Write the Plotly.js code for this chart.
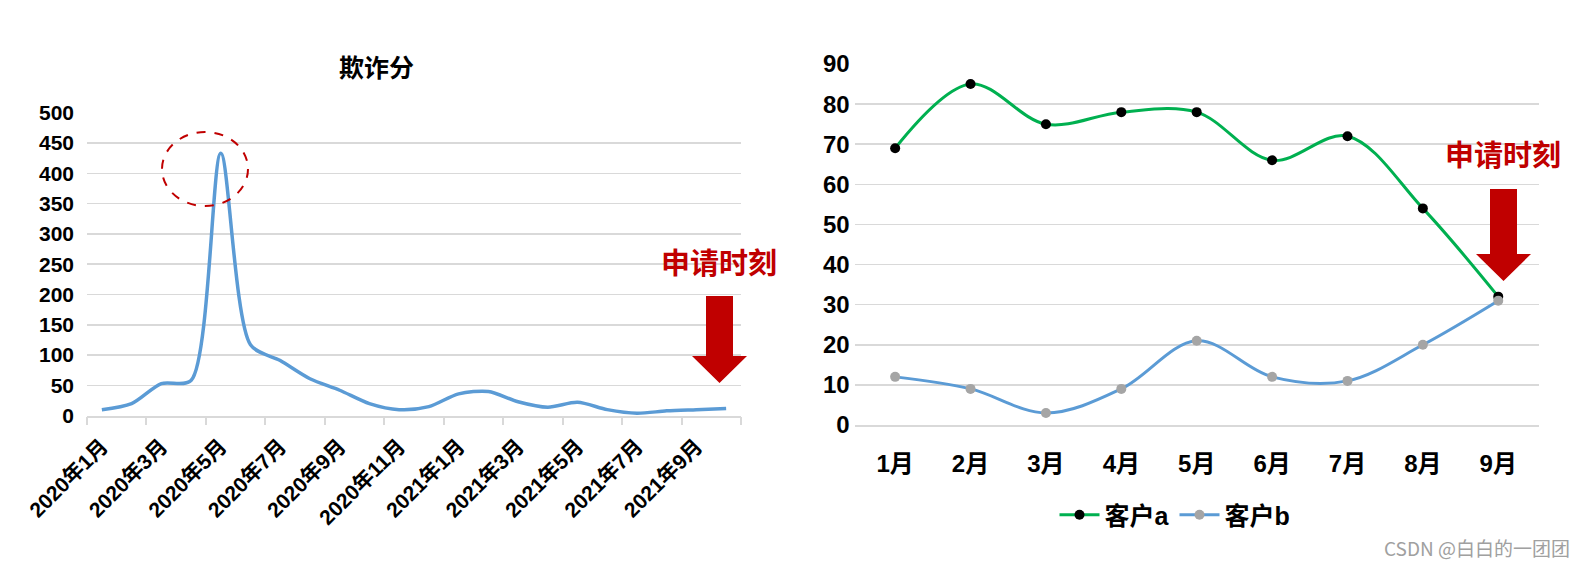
<!DOCTYPE html>
<html>
<head>
<meta charset="utf-8">
<script src="https://cdn.plot.ly/plotly-3.0.1.min.js"></script>
<style>html,body{margin:0;padding:0;background:#fff;}#chart{width:1594px;height:569px;}</style>
</head>
<body>
<div id="chart"></div>
<script>
// ---- data ----
const leftMonths = ['2020年1月','2020年2月','2020年3月','2020年4月','2020年5月','2020年6月','2020年7月','2020年8月','2020年9月','2020年10月','2020年11月','2020年12月','2021年1月','2021年2月','2021年3月','2021年4月','2021年5月','2021年6月','2021年7月','2021年8月','2021年9月','2021年10月'];
const fraudScore = [10, 20, 53, 58, 433, 117, 91, 61, 42, 20, 10, 15, 36, 40, 23, 14, 22, 10, 4, 8, 10, 12];
const leftTitle = '欺诈分';

const rightMonths = ['1月','2月','3月','4月','5月','6月','7月','8月','9月'];
const custA = [69, 85, 75, 78, 78, 66, 72, 54, 32];
const custB = [12, 9, 3, 9, 21, 12, 11, 20, 31];
const seriesNames = ['客户a', '客户b'];
const applyLabel = '申请时刻';
const watermark = 'CSDN @白白的一团团';

// ---- helpers ----
const W = 1594, H = 569;
const px = x => x / W;
const py = y => 1 - y / H;
const P = (x, y) => px(x) + ',' + py(y);
const FONT = 'Liberation Sans, Arial, "Noto Sans CJK SC", sans-serif';
const GRID = '#d9d9d9';
const RED = '#c00000';

const leftIdx = leftMonths.map((m, i) => i);
const leftTickVals = leftIdx.filter(i => i % 2 === 0);
const leftTickText = leftTickVals.map(i => leftMonths[i]);
const leftBoundaries = [];
for (let i = 0; i <= leftMonths.length; i += 2) leftBoundaries.push(i - 0.5);
const leftRange = [-0.5, leftMonths.length - 0.5];

const traces = [
  {
    x: leftIdx, y: fraudScore, type: 'scatter', mode: 'lines',
    line: {color: '#5b9bd5', width: 3.5, shape: 'spline', smoothing: 0.8},
    xaxis: 'x', yaxis: 'y', showlegend: false, hoverinfo: 'x+y'
  },
  {
    x: leftIdx, y: fraudScore, type: 'scatter', mode: 'lines',
    line: {color: 'rgba(0,0,0,0)', width: 0},
    xaxis: 'x3', yaxis: 'y', showlegend: false, hoverinfo: 'skip'
  },
  {
    x: rightMonths, y: custA, type: 'scatter', mode: 'lines+markers', name: seriesNames[0],
    line: {color: '#00b050', width: 3, shape: 'spline', smoothing: 1},
    marker: {color: '#000000', size: 10},
    xaxis: 'x2', yaxis: 'y2'
  },
  {
    x: rightMonths, y: custB, type: 'scatter', mode: 'lines+markers', name: seriesNames[1],
    line: {color: '#5b9bd5', width: 3, shape: 'spline', smoothing: 1},
    marker: {color: '#a5a5a5', size: 10},
    xaxis: 'x2', yaxis: 'y2'
  }
];

const layout = {
  width: W, height: H,
  margin: {l: 0, r: 0, t: 0, b: 0},
  paper_bgcolor: '#ffffff', plot_bgcolor: 'rgba(0,0,0,0)',
  font: {family: FONT, color: '#000000', weight: 'bold'},
  xaxis: {
    domain: [px(87), px(741)], anchor: 'y', range: leftRange,
    tickmode: 'array', tickvals: leftTickVals, ticktext: leftTickText,
    tickangle: -45, ticks: '', showgrid: false, zeroline: false,
    showline: true, linecolor: GRID, linewidth: 2,
    tickfont: {family: FONT, size: 21, color: '#000', weight: 'bold'},
    ticklabelstandoff: 8, fixedrange: true
  },
  xaxis3: {
    overlaying: 'x', anchor: 'y', range: leftRange, side: 'bottom',
    tickmode: 'array', tickvals: leftBoundaries, ticks: 'outside', ticklen: 8,
    tickcolor: GRID, tickwidth: 2, showticklabels: false, showgrid: false,
    zeroline: false, showline: false
  },
  yaxis: {
    domain: [py(415.7), py(112.7)], anchor: 'x', range: [0, 500], dtick: 50,
    showgrid: true, gridcolor: GRID, gridwidth: 1.5, zeroline: false,
    ticks: '', tickfont: {family: FONT, size: 21, color: '#000', weight: 'bold'},
    ticklabelstandoff: 12
  },
  xaxis2: {
    domain: [px(854.7), px(1538.7)], anchor: 'y2', type: 'category',
    ticks: '', showgrid: false, zeroline: false,
    showline: true, linecolor: GRID, linewidth: 1.5,
    tickfont: {family: FONT, size: 24, color: '#000', weight: 'bold'},
    ticklabelstandoff: 17
  },
  yaxis2: {
    domain: [py(425), py(64)], anchor: 'x2', range: [0, 90], dtick: 10,
    showgrid: true, gridcolor: GRID, gridwidth: 1.5, zeroline: false,
    ticks: '', tickfont: {family: FONT, size: 24, color: '#000', weight: 'bold'},
    ticklabelstandoff: 4
  },
  showlegend: true,
  legend: {
    orientation: 'h', x: px(1175), xanchor: 'center', y: py(515), yanchor: 'middle',
    font: {family: FONT, size: 25, color: '#000', weight: 'bold'},
    bgcolor: 'rgba(0,0,0,0)', itemwidth: 40, traceorder: 'normal'
  },
  annotations: [
    {text: leftTitle, xref: 'paper', yref: 'paper', x: px(376), y: py(68), showarrow: false,
     xanchor: 'center', yanchor: 'middle', font: {family: FONT, size: 25, color: '#000', weight: 'bold'}},
    {text: applyLabel, xref: 'paper', yref: 'paper', x: px(719), y: py(264), showarrow: false,
     xanchor: 'center', yanchor: 'middle', font: {family: FONT, size: 29, color: RED, weight: 'bold'}},
    {text: applyLabel, xref: 'paper', yref: 'paper', x: px(1503), y: py(156), showarrow: false,
     xanchor: 'center', yanchor: 'middle', font: {family: FONT, size: 29, color: RED, weight: 'bold'}},
    {text: watermark, xref: 'paper', yref: 'paper', x: px(1572), y: py(547), showarrow: false,
     xanchor: 'right', yanchor: 'middle', font: {family: '"Noto Sans CJK SC", sans-serif', size: 19, color: '#a0a0a0', weight: 'normal'}}
  ],
  shapes: [
    {type: 'circle', xref: 'paper', yref: 'paper', x0: px(162), x1: px(248), y0: py(206), y1: py(132),
     line: {color: RED, width: 2, dash: 'dash'}, fillcolor: 'rgba(0,0,0,0)'},
    {type: 'path', xref: 'paper', yref: 'paper', fillcolor: RED, line: {width: 0},
     path: 'M' + P(706, 296) + ' L' + P(733, 296) + ' L' + P(733, 356) + ' L' + P(747, 356) +
           ' L' + P(719.5, 383) + ' L' + P(692, 356) + ' L' + P(706, 356) + ' Z'},
    {type: 'path', xref: 'paper', yref: 'paper', fillcolor: RED, line: {width: 0},
     path: 'M' + P(1490, 189) + ' L' + P(1517, 189) + ' L' + P(1517, 254) + ' L' + P(1531, 254) +
           ' L' + P(1503.5, 281) + ' L' + P(1476, 254) + ' L' + P(1490, 254) + ' Z'}
  ]
};

Plotly.newPlot('chart', traces, layout, {displayModeBar: false, staticPlot: true});
</script>
</body>
</html>
